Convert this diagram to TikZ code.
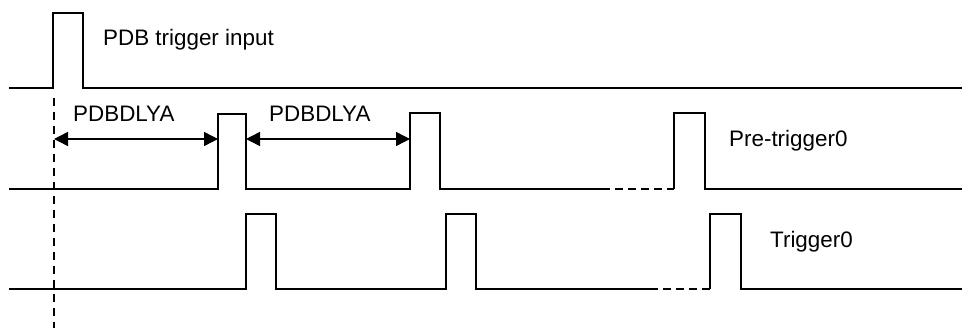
\documentclass[tikz,border=0pt]{standalone}
\usepackage{fontspec}
\setmainfont{Liberation Sans}
\usetikzlibrary{arrows.meta}
\begin{document}
\begin{tikzpicture}[x=1pt,y=-1pt,
  wave/.style={line width=1.4pt,line join=miter},
  gap/.style={line width=1.2pt,dash pattern=on 8pt off 5pt},
  guide/.style={line width=1.2pt,dash pattern=on 8pt off 6pt},
  span/.style={line width=1.4pt,{Triangle[length=14pt,width=14pt]}-{Triangle[length=14pt,width=14pt]}},
  lbl/.style={inner sep=0pt,anchor=base west,font=\fontsize{22.4}{26}\selectfont}]
\useasboundingbox (0,0) rectangle (962,328);

% PDB trigger input
\draw[wave] (9,88) -- (53,88) -- (53,13) -- (83,13) -- (83,88) -- (962,88);
\node[lbl] (tin) at (103,46) {PDB trigger input};

% time reference at the input pulse
\draw[guide] (54,98) -- (54,328);

% Pre-trigger0
\draw[wave] (9,189) -- (218,189) -- (218,114) -- (246,114) -- (246,189)
  -- (410,189) -- (410,113) -- (440,113) -- (440,189) -- (602,189);
\draw[gap] (602,189) -- (674,189);
\draw[wave] (674,189) -- (674,113) -- (705,113) -- (705,189) -- (962,189);
\node[lbl] (pre) at (729,147) {Pre-trigger0};

% Trigger0
\draw[wave] (9,289) -- (246,289) -- (246,214) -- (276,214) -- (276,289)
  -- (446,289) -- (446,214) -- (476,214) -- (476,289) -- (650,289);
\draw[gap] (650,289) -- (710,289);
\draw[wave] (710,289) -- (710,214) -- (741,214) -- (741,289) -- (962,289);
\node[lbl] (trg) at (770,248) {Trigger0};

% delay spans
\coordinate (d0) at (54,139);
\coordinate (d1) at (218,139);
\coordinate (d2) at (246,139);
\coordinate (d3) at (410,139);
\draw[span] (d0) -- (d1);
\draw[span] (d2) -- (d3);
\node[lbl] (dlya1) at (73,122) {PDBDLYA};
\node[lbl] (dlya2) at (269,122) {PDBDLYA};
\end{tikzpicture}
\end{document}
